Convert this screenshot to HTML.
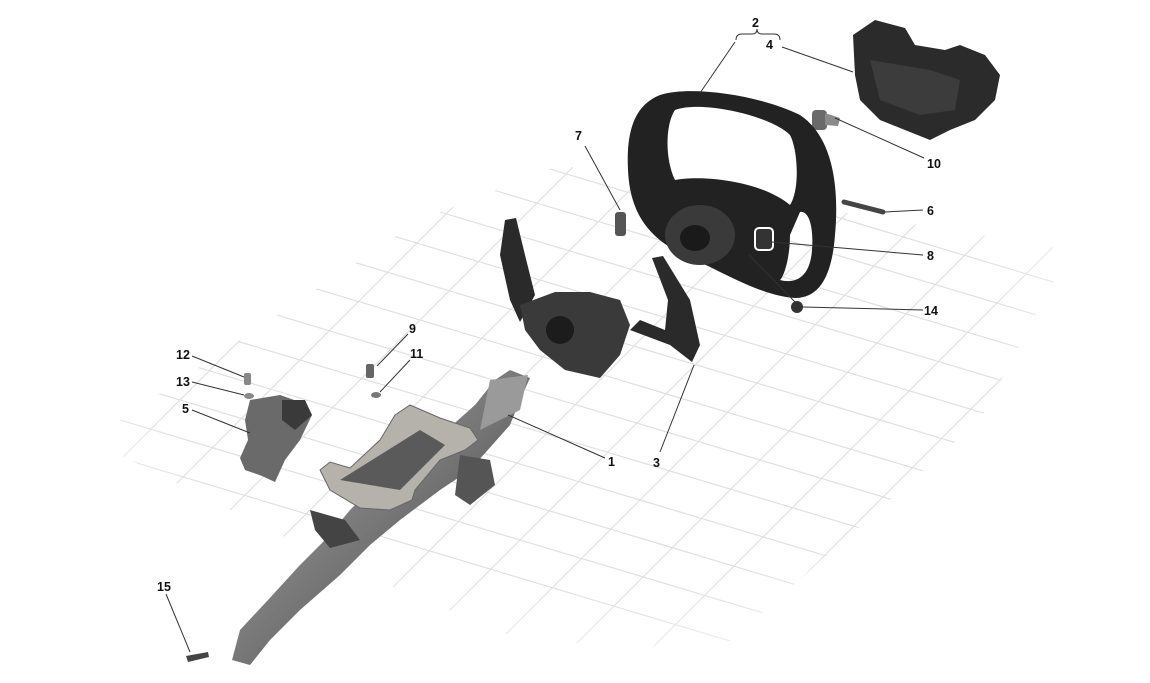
<!DOCTYPE html>
<html><head><meta charset="utf-8"><style>
html,body{margin:0;padding:0;background:#fff;width:1150px;height:683px;overflow:hidden;}
svg{display:block;}
text{font-family:"Liberation Sans",sans-serif;font-weight:bold;font-size:12.5px;fill:#111;}
</style></head><body>
<svg width="1150" height="683" viewBox="0 0 1150 683" xmlns="http://www.w3.org/2000/svg">
<defs>
<clipPath id="gc"><polygon points="90,440 420,220 560,165 1070,250 980,420 720,650 520,640 330,560"/></clipPath>
<radialGradient id="fade" cx="0.5" cy="0.5" r="0.6">
<stop offset="0.6" stop-color="#fff" stop-opacity="0"/><stop offset="1" stop-color="#fff" stop-opacity="1"/></radialGradient>
<linearGradient id="col" x1="0" y1="0" x2="1" y2="1"><stop offset="0" stop-color="#aaa"/><stop offset="0.5" stop-color="#777"/><stop offset="1" stop-color="#333"/></linearGradient>
</defs>
<g clip-path="url(#gc)" stroke="#dedede" stroke-width="1.1" fill="none">
<line x1="-200" y1="700" x2="500" y2="0"/>
<line x1="-120" y1="700" x2="580" y2="0"/>
<line x1="-40" y1="700" x2="660" y2="0"/>
<line x1="40" y1="700" x2="740" y2="0"/>
<line x1="120" y1="700" x2="820" y2="0"/>
<line x1="200" y1="700" x2="900" y2="0"/>
<line x1="280" y1="700" x2="980" y2="0"/>
<line x1="360" y1="700" x2="1060" y2="0"/>
<line x1="440" y1="700" x2="1140" y2="0"/>
<line x1="520" y1="700" x2="1220" y2="0"/>
<line x1="600" y1="700" x2="1300" y2="0"/>
<line x1="680" y1="700" x2="1380" y2="0"/>
<line x1="0" y1="80" x2="1150" y2="425"/>
<line x1="0" y1="118" x2="1150" y2="463"/>
<line x1="0" y1="156" x2="1150" y2="501"/>
<line x1="0" y1="194" x2="1150" y2="539"/>
<line x1="0" y1="232" x2="1150" y2="577"/>
<line x1="0" y1="270" x2="1150" y2="615"/>
<line x1="0" y1="308" x2="1150" y2="653"/>
<line x1="0" y1="346" x2="1150" y2="691"/>
<line x1="0" y1="384" x2="1150" y2="729"/>
<line x1="0" y1="422" x2="1150" y2="767"/>
<line x1="0" y1="42" x2="1150" y2="387"/>
<line x1="0" y1="4" x2="1150" y2="349"/>
<line x1="0" y1="-34" x2="1150" y2="311"/>
<line x1="0" y1="-72" x2="1150" y2="273"/>
<line x1="0" y1="-110" x2="1150" y2="235"/>
</g>
<rect x="0" y="0" width="1150" height="683" fill="url(#fade)"/>

<path d="M853,35 L875,20 L905,28 L915,45 L945,50 L960,45 L985,55 L1000,75 L995,100 L975,120 L950,130 L930,140 L910,132 L880,120 L860,100 L855,75 Z" fill="#2b2b2b"/>
<path d="M870,60 L930,70 L960,80 L955,110 L920,115 L880,100 Z" fill="#3c3c3c"/>
<rect x="812" y="110" width="15" height="20" rx="4" fill="#6a6a6a"/>
<path d="M825,113 L840,118 L838,126 L825,125 Z" fill="#8a8a8a"/>
<line x1="844" y1="202" x2="883" y2="212" stroke="#444" stroke-width="5" stroke-linecap="round"/>

<path fill-rule="evenodd" fill="#222" d="M660,95 C690,85 760,95 800,115 C830,135 840,180 835,235 C832,275 820,298 795,298 C760,296 720,270 690,258 C650,240 630,215 628,170 C626,130 635,105 660,95 Z
M675,110 C665,125 665,160 675,180 C700,175 760,180 790,205 C800,190 798,150 790,135 C770,115 700,100 675,110 Z
M790,235 C790,255 785,275 780,280 C795,284 810,278 812,250 C814,225 808,210 800,212 Z"/>
<ellipse cx="700" cy="235" rx="35" ry="30" fill="#3a3a3a"/>
<ellipse cx="695" cy="238" rx="15" ry="13" fill="#1a1a1a"/>
<rect x="755" y="228" width="18" height="22" rx="4" fill="#333" stroke="#fff" stroke-width="2"/>
<circle cx="797" cy="307" r="6" fill="#333"/>
<rect x="615" y="212" width="11" height="24" rx="3" fill="#555"/>

<path d="M505,220 L516,218 L525,255 L535,295 L520,322 L510,300 L500,255 Z" fill="#2a2a2a"/>
<path d="M652,258 L663,256 L690,300 L700,345 L692,362 L670,345 L630,330 L640,320 L665,330 L668,300 Z" fill="#2a2a2a"/>
<path d="M520,305 L555,292 L590,292 L620,300 L630,325 L620,355 L600,378 L565,370 L540,350 L525,330 Z" fill="#3a3a3a"/>
<circle cx="560" cy="330" r="14" fill="#1c1c1c"/>

<path d="M510,370 L530,378 L520,400 L510,425 L470,470 L440,490 L400,520 L370,545 L340,575 L300,610 L270,640 L250,665 L232,660 L240,630 L268,600 L300,565 L325,540 L350,510 L380,480 L430,445 L475,405 L495,380 Z" fill="url(#col)"/>
<path d="M490,380 L528,375 L520,410 L480,430 Z" fill="#9a9a9a"/>
<path d="M395,415 L410,405 L440,418 L470,428 L478,440 L465,450 L440,460 L415,490 L412,500 L390,510 L360,508 L330,490 L320,470 L330,462 L350,468 L380,440 Z" fill="#b5b2ab" stroke="#666" stroke-width="1"/>
<path d="M340,480 L420,430 L445,445 L400,490 Z" fill="#5a5a5a"/>
<path d="M460,455 L490,460 L495,485 L470,505 L455,495 Z" fill="#555"/>
<path d="M310,510 L345,520 L360,540 L330,548 L315,530 Z" fill="#444"/>
<path d="M250,400 L280,395 L300,402 L312,415 L300,440 L285,460 L275,482 L262,476 L245,470 L240,458 L248,440 L245,420 Z" fill="#6a6a6a"/>
<path d="M282,400 L305,400 L312,415 L295,430 L282,420 Z" fill="#3a3a3a"/>
<rect x="244" y="373" width="7" height="12" rx="2" fill="#888"/>
<ellipse cx="249" cy="396" rx="5" ry="3" fill="#888"/>
<rect x="366" y="364" width="8" height="14" rx="2" fill="#666"/>
<ellipse cx="376" cy="395" rx="5" ry="3" fill="#777"/>
<path d="M186,656 L208,652 L209,657 L188,662 Z" fill="#444"/>

<g stroke="#333" stroke-width="1" fill="none">
<path d="M736,40 Q736,34 742,34 L752,34 Q757,34 757,29 Q757,34 762,34 L774,34 Q780,34 780,40"/>
<line x1="735" y1="42" x2="700" y2="93"/>
<line x1="782" y1="47" x2="853" y2="72"/>
<line x1="924" y1="158" x2="835" y2="118"/>
<line x1="923" y1="210" x2="885" y2="212"/>
<line x1="923" y1="255" x2="772" y2="242"/>
<line x1="749" y1="255" x2="795" y2="302"/>
<line x1="923" y1="310" x2="803" y2="307"/>
<line x1="585" y1="146" x2="620" y2="210"/>
<line x1="660" y1="452" x2="694" y2="365"/>
<line x1="605" y1="458" x2="508" y2="415"/>
<line x1="408" y1="334" x2="377" y2="366"/>
<line x1="410" y1="360" x2="380" y2="392"/>
<line x1="192" y1="356" x2="244" y2="377"/>
<line x1="192" y1="382" x2="244" y2="395"/>
<line x1="192" y1="410" x2="250" y2="433"/>
<line x1="166" y1="594" x2="190" y2="652"/>
</g>

<text x="752" y="27">2</text>
<text x="766" y="49">4</text>
<text x="927" y="168">10</text>
<text x="927" y="215">6</text>
<text x="927" y="260">8</text>
<text x="924" y="315">14</text>
<text x="575" y="140">7</text>
<text x="653" y="467">3</text>
<text x="608" y="466">1</text>
<text x="409" y="333">9</text>
<text x="410" y="358">11</text>
<text x="176" y="359">12</text>
<text x="176" y="386">13</text>
<text x="182" y="413">5</text>
<text x="157" y="591">15</text>
</svg>
</body></html>
